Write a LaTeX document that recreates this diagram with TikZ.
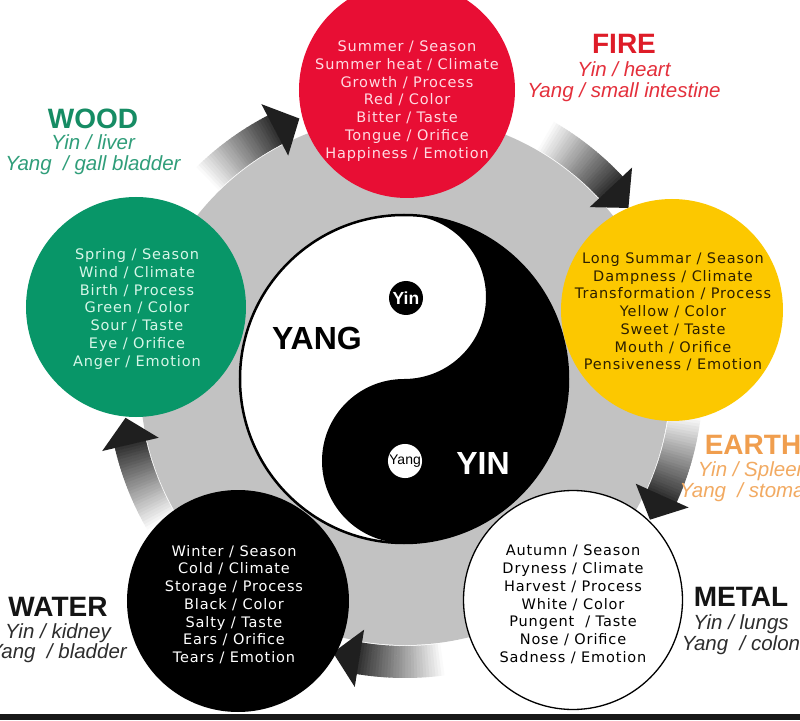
\documentclass[tikz,border=0pt]{standalone}
\usepackage{fontspec}
\setmainfont{Liberation Sans}
\newfontfamily\circfont[LetterSpace=6]{DejaVu Sans}
\definecolor{firecol}{RGB}{232,14,52}
\definecolor{woodcol}{RGB}{8,150,104}
\definecolor{earthcol}{RGB}{252,200,0}
\definecolor{ringgray}{RGB}{194,194,194}
\definecolor{firelab}{RGB}{222,28,40}
\definecolor{firesub}{RGB}{228,48,60}
\definecolor{woodlab}{RGB}{22,140,100}
\definecolor{woodsub}{RGB}{48,158,122}
\definecolor{earthlab}{RGB}{240,158,78}
\definecolor{earthsub}{RGB}{242,170,98}
\definecolor{firetxt}{RGB}{255,218,226}
\definecolor{woodtxt}{RGB}{214,246,232}
\definecolor{earthtxt}{RGB}{45,32,0}
\definecolor{darklab}{RGB}{20,20,20}
\definecolor{darksub}{RGB}{45,45,45}
\begin{document}
\begin{tikzpicture}[x=1pt,y=1pt,
  elem/.style={circle, inner sep=0pt, minimum size=#1},
  ctext/.style={font=\circfont\fontsize{14.5}{17.75}\selectfont, align=center, inner sep=0pt},
  ttl/.style={font=\bfseries\fontsize{28}{30}\selectfont, anchor=base, inner sep=0pt},
  sub/.style={font=\itshape\fontsize{20.5}{22}\selectfont, anchor=base, inner sep=0pt}]
\fill[white] (-405,-340) rectangle (395,380);
\useasboundingbox (-405,-340) rectangle (395,380);
% gray disk
\node[elem=530, fill=ringgray] (ring) at (0,0) {};
% arrows with gradient
\foreach \tip in {112, 37.6, -29.7, -104.8, 187.7} {
  \pgfmathsetmacro\arT{\tip+23}
  \pgfmathsetmacro\arH{\tip+5.5}
  \foreach \k in {0,...,29} {
    \pgfmathsetmacro\angA{\arT-(\arT-\arH)*\k/30}
    \pgfmathsetmacro\angB{\arT-(\arT-\arH)*(\k+1)/30-0.1}
    \pgfmathtruncatemacro\shadeP{80*\k/29}
    \fill[black!\shadeP] (\angA:266) arc[start angle=\angA, end angle=\angB, radius=266]
      -- (\angB:298) arc[start angle=\angB, end angle=\angA, radius=298] -- cycle;
  }
  \fill[black!88] (\arH:253) -- (\tip:282) -- (\arH:311) -- cycle;
}
% yin-yang
\begin{scope}[shift={(-1,1)}]
  \fill[white] (0,0) circle[radius=164];
  \fill[black] (0,164) arc[start angle=90, end angle=-90, radius=164]
    arc[start angle=-90, end angle=-270, radius=82]
    arc[start angle=-90, end angle=90, radius=82] -- cycle;
  \draw[line width=2.5pt] (0,0) circle[radius=164];
\end{scope}
\node[circle, fill=black, minimum size=34, inner sep=0pt, text=white, font=\bfseries\fontsize{17.5}{17.5}\selectfont] (yindot) at (1,82) {Yin};
\node[circle, fill=white, minimum size=34, inner sep=0pt, text=black, font=\fontsize{14}{14}\selectfont] (yangdot) at (0,-81) {Yang};
\node[font=\bfseries\fontsize{32}{32}\selectfont, anchor=base, inner sep=0pt] (yangtxt) at (-88,30.5) {YANG};
\node[font=\bfseries\fontsize{32}{32}\selectfont, anchor=base, inner sep=0pt, text=white] (yintxt) at (78,-94.5) {YIN};
% element circles
\node[elem=216, fill=firecol] (fire) at (2,290) {};
\node[elem=220, fill=woodcol] (wood) at (-269,73) {};
\node[elem=222, fill=earthcol] (earth) at (267,70) {};
\node[elem=222, fill=black] (water) at (-167,-221) {};
\node[elem=219, fill=white, draw=black, line width=1.3pt] (metal) at (168,-220) {};
% circle texts
\node[ctext, text=firetxt] (firetext) at (2,279) {Summer / Season\\Summer heat / Climate\\Growth / Process\\Red / Color\\Bitter / Taste\\Tongue / Orifice\\Happiness / Emotion};
\node[ctext, text=woodtxt] (woodtext) at (-268,71) {Spring / Season\\Wind / Climate\\Birth / Process\\Green / Color\\Sour / Taste\\Eye / Orifice\\Anger / Emotion};
\node[ctext, text=earthtxt] (earthtext) at (268,68) {Long Summar / Season\\Dampness / Climate\\Transformation / Process\\Yellow / Color\\Sweet / Taste\\Mouth / Orifice\\Pensiveness / Emotion};
\node[ctext, text=white] (watertext) at (-171,-224.5) {Winter / Season\\Cold / Climate\\Storage / Process\\Black / Color\\Salty / Taste\\Ears / Orifice\\Tears / Emotion};
\node[ctext, text=black] (metaltext) at (168,-224.5) {Autumn / Season\\Dryness / Climate\\Harvest / Process\\White / Color\\Pungent\ \ / Taste\\Nose / Orifice\\Sadness / Emotion};
% labels
\node[ttl, text=woodlab] (woodT) at (-312,251) {WOOD};
\node[sub, text=woodsub] (woodA) at (-312,230) {Yin / liver};
\node[sub, text=woodsub] (woodB) at (-312,209) {Yang\ \ / gall bladder};
\node[ttl, text=firelab] (fireT) at (219,326) {FIRE};
\node[sub, text=firesub] (fireA) at (219,303) {Yin / heart};
\node[sub, text=firesub] (fireB) at (219,282) {Yang / small intestine};
\node[ttl, text=earthlab] (earthT) at (348,-74) {EARTH};
\node[sub, text=earthsub] (earthA) at (348,-96) {Yin / Spleen};
\node[sub, text=earthsub] (earthB) at (348,-117) {Yang\ \ / stomach};
\node[ttl, text=darklab] (metalT) at (336,-226) {METAL};
\node[sub, text=darksub] (metalA) at (336,-249) {Yin / lungs};
\node[sub, text=darksub] (metalB) at (336,-270) {Yang\ \ / colon};
\node[ttl, text=darklab] (waterT) at (-347,-236) {WATER};
\node[sub, text=darksub] (waterA) at (-347,-258) {Yin / kidney};
\node[sub, text=darksub] (waterB) at (-347,-278) {Yang\ \ / bladder};
% bottom bar
\fill[black!90] (-405,-340) rectangle (395,-334);
\end{tikzpicture}
\end{document}
